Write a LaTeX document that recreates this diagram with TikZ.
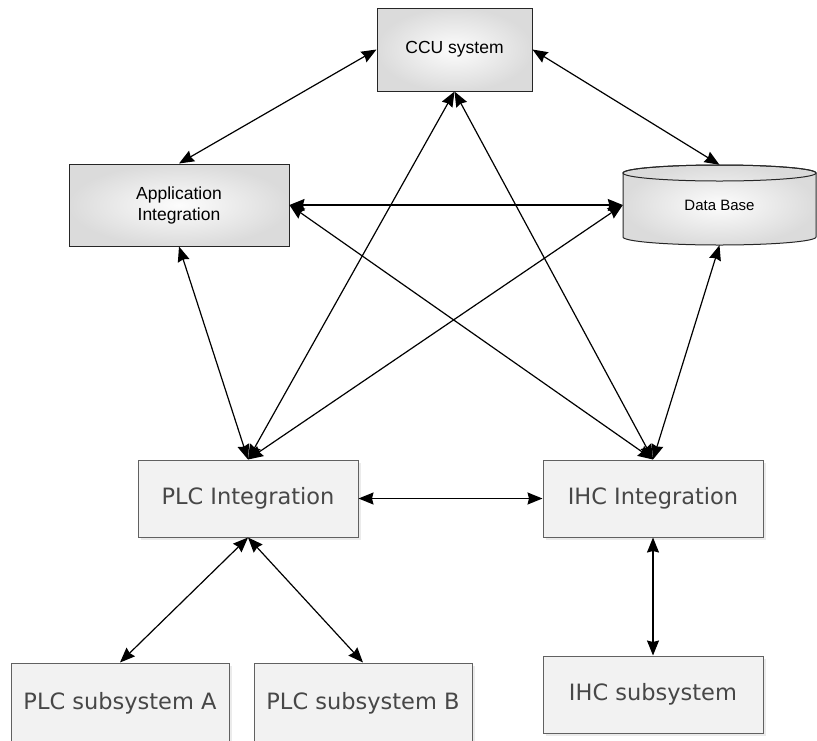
\documentclass[tikz,border=0pt]{standalone}
\usepackage{fontspec}
\setmainfont{Liberation Sans}
\newfontfamily\verd{DejaVu Sans}
\usetikzlibrary{arrows.meta,shadows}

\begin{document}
\begin{tikzpicture}[x=1pt,y=-1pt,
  topbox/.style={draw=black!85, line width=1pt, inner color=black!1, outer color=black!14,
    font=\fontsize{17.5}{21}\selectfont, align=center, inner sep=0pt},
  lowbox/.style={draw=black!62, line width=1pt, fill=black!5,
    drop shadow={opacity=0.16, shadow xshift=3pt, shadow yshift=-3pt},
    font=\verd\fontsize{22.5}{26}\selectfont, text=black!72, inner sep=0pt},
  tip/.tip={Stealth[length=15pt,width=12pt,inset=1.5pt]},
  link/.style={line width=1.2pt, tip-tip}
]
\useasboundingbox (0,0) rectangle (817,740);

% upper tier
\node[topbox, minimum width=155pt, minimum height=83pt] (ccu) at (454.5,49.5) {CCU system};
\node[topbox, minimum width=220pt, minimum height=82pt] (app) at (179,205) {Application\\Integration};

% database cylinder
\shade[inner color=black!1, outer color=black!14]
  (623,173) -- (623,237) arc[start angle=180, end angle=0, x radius=96.5, y radius=8]
  -- (816,173) arc[start angle=0, end angle=-180, x radius=96.5, y radius=8] -- cycle;
\draw[black!85, line width=1pt]
  (623,173) -- (623,237) arc[start angle=180, end angle=0, x radius=96.5, y radius=8]
  -- (816,173) arc[start angle=0, end angle=-180, x radius=96.5, y radius=8] -- cycle;
\draw[black!85, line width=1pt] (719.5,173) ellipse[x radius=96.5, y radius=8];
\node[minimum width=193pt, minimum height=80pt, inner sep=0pt,
      font=\fontsize{15}{18}\selectfont] (db) at (719.5,205) {Data Base};

% integration tier
\node[lowbox, minimum width=220pt, minimum height=77pt] (plc) at (248,498.5) {PLC Integration};
\node[lowbox, minimum width=220pt, minimum height=77pt] (ihc) at (653,498.5) {IHC Integration};

% subsystems
\node[lowbox, minimum width=218pt, minimum height=80pt] (suba) at (120,703) {PLC subsystem A};
\node[lowbox, minimum width=218pt, minimum height=80pt] (subb) at (363,703) {PLC subsystem B};
\node[lowbox, minimum width=220pt, minimum height=77pt] (ihcsub) at (653,694.5) {IHC subsystem};

% connectors
\draw[link] (ccu.west) -- (app.north);
\draw[link] (ccu.east) -- (db.north);
\draw[link] (ccu.south) -- (plc.north);
\draw[link] (ccu.south) -- (ihc.north);
\draw[link] (app.east) -- (db.west);
\draw[link] (app.east) -- (ihc.north);
\draw[link] (db.west) -- (plc.north);
\draw[link] (app.south) -- (plc.north);
\draw[link] (db.south) -- (ihc.north);
\draw[link] (plc.east) -- (ihc.west);
\draw[link] (plc.south) -- (suba.north);
\draw[link] (plc.south) -- (subb.north);
\draw[link] (ihc.south) -- (ihcsub.north);
\end{tikzpicture}
\end{document}
